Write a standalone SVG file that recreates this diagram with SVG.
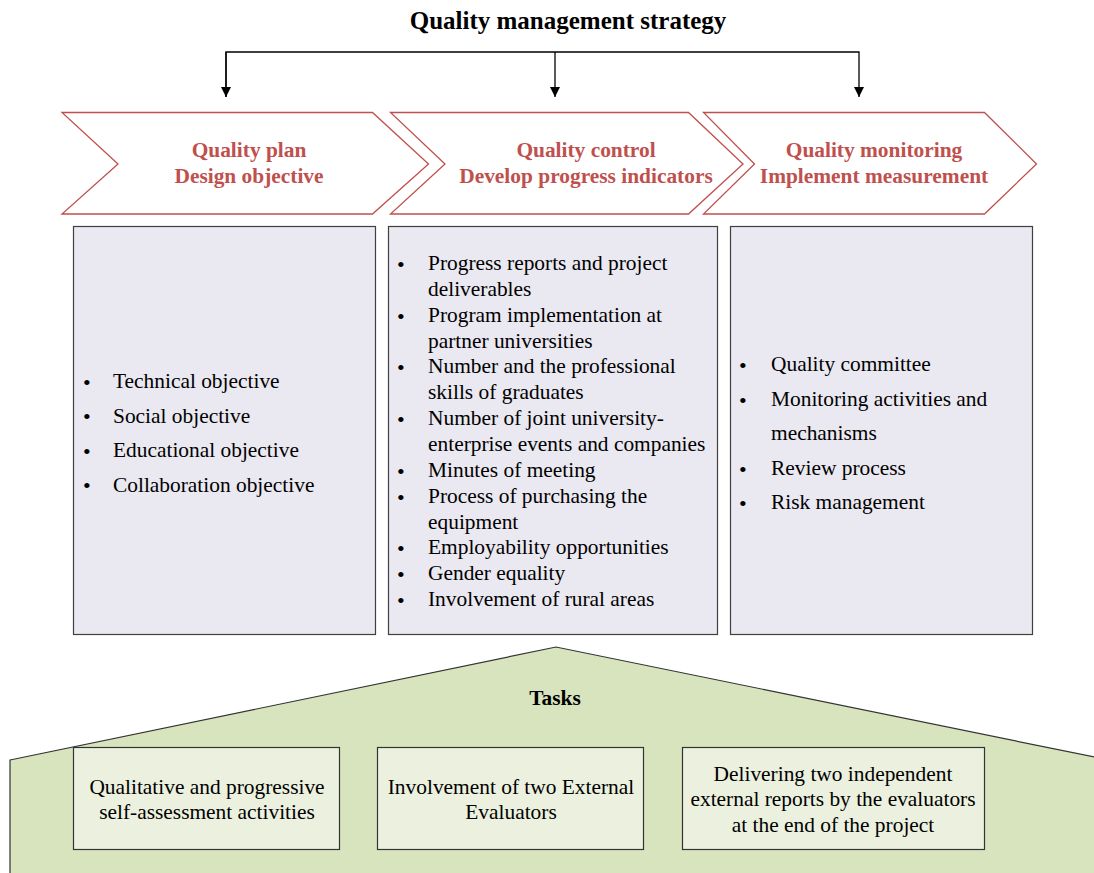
<svg xmlns="http://www.w3.org/2000/svg" width="1094" height="873" viewBox="0 0 1094 873" font-family="Liberation Serif, serif">
<defs>
<style>
.chev{fill:#fff;stroke:#C0504D;stroke-width:1.3}
.box{fill:#EAE8F0;stroke:#404040;stroke-width:1.2}
.task{fill:#EBF1DE;stroke:#333;stroke-width:1.2}
.conn{fill:none;stroke:#000;stroke-width:1.3}
</style>
<marker id="ah" viewBox="0 0 10 10" refX="10" refY="5" markerWidth="10" markerHeight="10" markerUnits="userSpaceOnUse" orient="auto">
<path d="M0,0 L10,5 L0,10 z" fill="#000"/>
</marker>
</defs>
<rect width="1094" height="873" fill="#fff"/>
<text x="568" y="29" text-anchor="middle" font-size="25" font-weight="bold" font-family="Liberation Serif, serif">Quality management strategy</text>

<g id="connectors">
<path class="conn" d="M226,97 V52 H859 V97" marker-end="url(#ah)"/>
<path class="conn" d="M226,52 V97" marker-end="url(#ah)"/>
<path class="conn" d="M555,52 V97" marker-end="url(#ah)"/>
</g>

<g id="chev1" font-family="Liberation Serif, serif" font-size="21.4" font-weight="bold" fill="#C0504D" text-anchor="middle">
<polygon class="chev" points="62,112.5 372.5,112.5 428.5,164 372.5,214 62,214 118,164"/>
<text x="249" y="157">Quality plan</text>
<text x="249" y="183">Design objective</text>
</g>
<g id="chev2" font-family="Liberation Serif, serif" font-size="21.4" font-weight="bold" fill="#C0504D" text-anchor="middle">
<polygon class="chev" points="390.5,112.5 688.5,112.5 743,164 688.5,214 390.5,214 445,164"/>
<text x="586" y="157">Quality control</text>
<text x="586" y="183">Develop progress indicators</text>
</g>
<g id="chev3" font-family="Liberation Serif, serif" font-size="21.4" font-weight="bold" fill="#C0504D" text-anchor="middle">
<polygon class="chev" points="703.5,112.5 984.5,112.5 1036.5,164 984.5,214 703.5,214 754.5,164"/>
<text x="874" y="157">Quality monitoring</text>
<text x="874" y="183">Implement measurement</text>
</g>

<g id="box1" font-family="Liberation Serif, serif" font-size="21.4">
<rect class="box" x="73.5" y="226.5" width="302" height="408"/>
<text font-size="22" x="83" y="389.5">•</text><text x="113" y="388">Technical objective</text>
<text font-size="22" x="83" y="424">•</text><text x="113" y="422.5">Social objective</text>
<text font-size="22" x="83" y="458.5">•</text><text x="113" y="457">Educational objective</text>
<text font-size="22" x="83" y="493">•</text><text x="113" y="491.5">Collaboration objective</text>
</g>

<g id="box2" font-family="Liberation Serif, serif" font-size="21.4">
<rect class="box" x="388.5" y="226.5" width="329" height="408"/>
<text font-size="22" x="397" y="271.5">•</text><text x="428" y="270">Progress reports and project</text>
<text x="428" y="296">deliverables</text>
<text font-size="22" x="397" y="323.5">•</text><text x="428" y="322">Program implementation at</text>
<text x="428" y="347.5">partner universities</text>
<text font-size="22" x="397" y="374.5">•</text><text x="428" y="373">Number and the professional</text>
<text x="428" y="399">skills of graduates</text>
<text font-size="22" x="397" y="426.5">•</text><text x="428" y="425">Number of joint university-</text>
<text x="428" y="451">enterprise events and companies</text>
<text font-size="22" x="397" y="478.5">•</text><text x="428" y="477">Minutes of meeting</text>
<text font-size="22" x="397" y="504.5">•</text><text x="428" y="503">Process of purchasing the</text>
<text x="428" y="529">equipment</text>
<text font-size="22" x="397" y="555.5">•</text><text x="428" y="554">Employability opportunities</text>
<text font-size="22" x="397" y="581.5">•</text><text x="428" y="580">Gender equality</text>
<text font-size="22" x="397" y="607.5">•</text><text x="428" y="606">Involvement of rural areas</text>
</g>

<g id="box3" font-family="Liberation Serif, serif" font-size="21.4">
<rect class="box" x="730.5" y="226.5" width="302" height="408"/>
<text font-size="22" x="739" y="372.5">•</text><text x="771" y="371">Quality committee</text>
<text font-size="22" x="739" y="407.5">•</text><text x="771" y="406">Monitoring activities and</text>
<text x="771" y="440">mechanisms</text>
<text font-size="22" x="739" y="476.5">•</text><text x="771" y="475">Review process</text>
<text font-size="22" x="739" y="510.5">•</text><text x="771" y="509">Risk management</text>
</g>

<g id="tasks" font-family="Liberation Serif, serif">
<polygon points="10,760 556,647 1104,759 1104,880 10,880" fill="#D7E4BD" stroke="#333" stroke-width="1.2"/>
<text x="555" y="705" font-size="21.4" font-weight="bold" text-anchor="middle">Tasks</text>
</g>
<g id="task1" font-family="Liberation Serif, serif" font-size="21.4" text-anchor="middle">
<rect class="task" x="73.5" y="747.5" width="266" height="102"/>
<text x="207" y="794">Qualitative and progressive</text>
<text x="207" y="819">self-assessment activities</text>
</g>
<g id="task2" font-family="Liberation Serif, serif" font-size="21.4" text-anchor="middle">
<rect class="task" x="377.5" y="747.5" width="266" height="102"/>
<text x="511" y="794">Involvement of two External</text>
<text x="511" y="819">Evaluators</text>
</g>
<g id="task3" font-family="Liberation Serif, serif" font-size="21.4" text-anchor="middle">
<rect class="task" x="682.5" y="747.5" width="302" height="102"/>
<text x="833" y="781">Delivering two independent</text>
<text x="833" y="806">external reports by the evaluators</text>
<text x="833" y="832">at the end of the project</text>
</g>
</svg>
